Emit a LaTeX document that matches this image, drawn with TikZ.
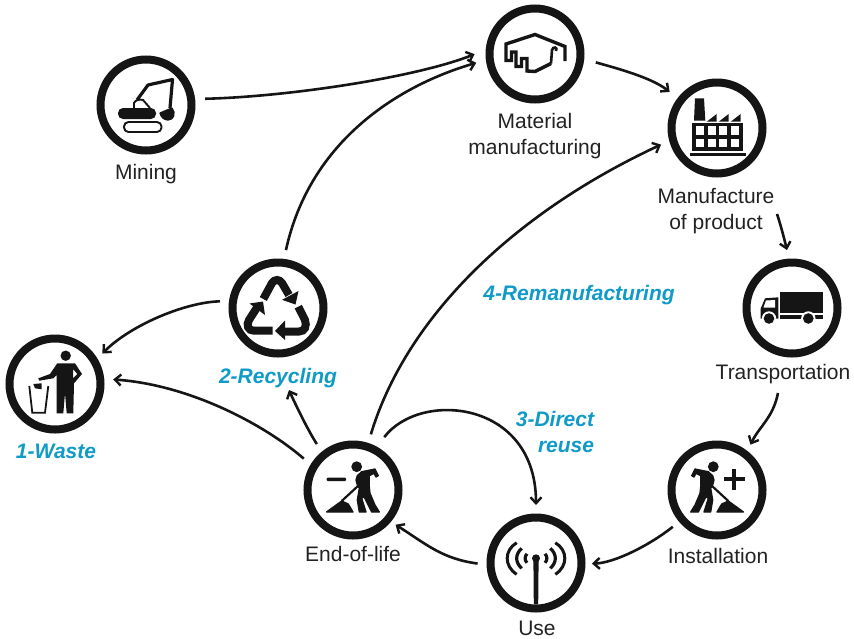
\documentclass[tikz,border=0pt]{standalone}
\usepackage{fontspec}
\setmainfont{Liberation Sans}
\usetikzlibrary{arrows.meta}
\definecolor{ink}{HTML}{151515}
\definecolor{txt}{HTML}{222222}
\definecolor{teal}{HTML}{0F9AC8}
\tikzset{
  ring/.style={circle,draw=ink,line width=8pt,minimum size=91pt,inner sep=0pt,fill=none},
  lab/.style={font=\fontsize{21}{26}\selectfont,text=txt,inner sep=0pt,align=center},
  tag/.style={font=\fontsize{21}{26}\selectfont\bfseries\itshape,text=teal,inner sep=0pt,align=center},
  conn/.style={draw=ink,line width=2.6pt,-{Straight Barb[length=6pt,width=11pt,line width=2.4pt]}},
  ic/.style={fill=ink,draw=ink,line width=1.3pt,line join=round},
  icl/.style={draw=ink,fill=none}
}
\newcommand{\workericon}{%
  \fill[ink] (3.7,-23.3) circle (5.4);
  \filldraw[ic] (4.3,-14.3)--(8.7,-18.3)--(22,-21)--(25.3,-14.3)--(23,-13)--(21,-16.7)--(16.3,-14.3)--(16.3,-3.3)--(17,3.3)--(22,15)--(26.3,22)--(18.7,22)--(11,6.7)--(8.7,8.3)--(13,22)--(6.3,22)--(4.3,10)--(6.3,-1.7)--(4.3,-5)--(3,-10)--cycle;
  \draw[icl,line width=2.2pt] (-11.3,11)--(5.3,-4.3);
  \filldraw[ic] (-26.5,22)--(-19.7,17)--(-11.3,11)--(-4.7,14)--(0,22)--cycle;
}
\begin{document}
\begin{tikzpicture}[x=1pt,y=-1pt]
\useasboundingbox (0,0) rectangle (854,638);
% rings
\node[ring] (mining) at (146,105) {};
\node[ring] (material) at (535,54) {};
\node[ring] (manuf) at (717,128) {};
\node[ring] (transport) at (792,308) {};
\node[ring] (install) at (717,490) {};
\node[ring] (use) at (536,563) {};
\node[ring] (eol) at (353,490) {};
\node[ring] (recycle) at (278,308) {};
\node[ring] (waste) at (55,384) {};
% labels
\node[lab] (Lmining) at (146,174) {Mining};
\node[lab] (Lmaterial) at (535,136) {Material\\manufacturing};
\node[lab] (Lmanuf) at (716,211) {Manufacture\\of product};
\node[lab] (Ltransport) at (783,374) {Transportation};
\node[lab] (Linstall) at (718,556) {Installation};
\node[lab] (Luse) at (537,628) {Use};
\node[lab] (Leol) at (353,554) {End-of-life};
\node[tag] (Lrecycle) at (278,378) {2-Recycling};
\node[tag] (Lwaste) at (56,451) {1-Waste};
\node[tag,align=right] (Lreuse) at (555,431.5) {3-Direct\\reuse};
\node[tag] (Lreman) at (579,295) {4-Remanufacturing};
% connectors
\draw[conn,shorten <=10pt,shorten >=12pt] (mining.7) .. controls +(90,-2) and +(-70,28) .. (material.175);
\draw[conn,shorten <=9pt,shorten >=10pt] (recycle.83) .. controls +(26,-119) and +(-86,25) .. (material.187);
\draw[conn,shorten <=12pt,shorten >=10pt] (material.-6) .. controls +(36,10) and +(-25,-20) .. (manuf.143);
\draw[conn,shorten <=9pt,shorten >=9pt] (eol.72) .. controls +(37,-123) and +(-159,74) .. (manuf.195);
\draw[conn] ([xshift=61pt,yshift=20pt]Lmanuf.south) .. controls +(4,12) and +(-3,-12) .. ([xshift=-5pt,yshift=8.5pt]transport.north);
\draw[conn,shorten >=7pt] ([xshift=-5pt,yshift=-9pt]Ltransport.south) .. controls +(-5,25) and +(12,-25) .. (install.52);
\draw[conn,shorten <=8pt,shorten >=6.5pt] (install.220) .. controls +(-29,23) and +(29.5,-1) .. (use.-1);
\draw[conn,shorten <=9pt,shorten >=5.5pt] (use.182) .. controls +(-45,-6) and +(35,22) .. (eol.-40.6);
\draw[conn,shorten <=12pt,shorten >=8.5pt] (eol.61) .. controls +(43,-56.7) and +(0,-113.5) .. (use.90);
\draw[conn,shorten <=9pt] (eol.129) .. controls +(-12,-18) and +(8,18) .. ([xshift=11pt,yshift=-2pt]Lrecycle.south);
\draw[conn,shorten <=9pt,shorten >=9pt] (eol.149) .. controls +(-45.6,-39.5) and +(86,6) .. (waste.6);
\draw[conn,shorten <=9pt,shorten >=7pt] (recycle.172) .. controls +(-44,1) and +(32.6,-33) .. (waste.31);
% mining icon
\fill[ink,rounded corners=5pt] (118,108) rectangle (156,119);
\draw[icl,line width=1.9pt,rounded corners=4.5pt] (124,122) rectangle (161.5,132);
\draw[icl,line width=1.9pt] (134,108)--(134,103)..controls (135,100) and (140,99)..(143,100)--(150,108);
\draw[icl,line width=3.2pt,line join=round] (137,100)--(148,85)--(172.5,79.5)--(170,108);
\filldraw[ic] (160,113)--(172,108)..controls (176,113) and (174,120)..(168,120)..controls (164,120) and (161,117)..(160,113)--cycle;
% material icon
\draw[icl,line width=3.4pt,line join=miter] (565,61)--(565,46.5)--(535,34.5)--(506,44)--(506,60.5)--(511.5,60.5)--(511.5,52)--(516,52)--(516,66.5)--(521.5,66.5)--(521.5,58.5)--(527,58.5)--(527,71)--(535,71.5)--(551,63.5);
\draw[icl,line width=2.6pt] (551,63.5)--(552,50)..controls (553,46) and (558,47)..(556,51);
% factory icon
\fill[ink] (695,98.3)--(704,98.3)--(705.3,120.7)--(694,120.7)--cycle;
\foreach \dx in {0,12,24}{\fill[ink] (706.7+\dx,121.7)--(716.7+\dx,114)--(716.7+\dx,121.7)--cycle;}
\fill[ink] (692.3,122.7) rectangle (743.3,151);
\foreach \wx in {695.6,707.6,719.3,731.3}{
  \foreach \wy in {126.3,138.6}{\fill[white] (\wx,\wy) rectangle (\wx+8,\wy+8.4);}
}
\fill[ink] (690,152.7) rectangle (745.7,156);
% recycling icon
\begin{scope}[line width=8pt,draw=ink]
\draw (263.3,299)--(272,283)..controls (275,279) and (279,279)..(282,283)--(289,295);
\fill[ink] (282,299.8)--(298.5,291)--(295.5,304.5)--cycle;
\draw (298.3,306.7)--(305,320)..controls (307,326) and (305,331.5)..(299,331.5)--(283.3,331.5);
\fill[ink] (285,320.5)--(285,340)--(275,331)--cycle;
\draw (272.7,330.7)--(254,330.7)..controls (248,330.7) and (246,325)..(249,320)--(256.7,308);
\fill[ink] (249.5,303.5)--(263,301.5)--(265,315)--cycle;
\end{scope}
% waste icon
\fill[ink] (65.7,355.7) circle (5.2);
\fill[ink,even odd rule] (57.3,363.3)--(75,363.3)--(82,374)--(74,383.3)--(73.3,413.3)--(66.7,413.3)--(65,393.3)--(63.3,413.3)--(56.7,413.3)--(56.7,375)--(53.3,378.3)--(39.3,380.7)--(38.3,378.3)--(50,374)--cycle
  (73,369)--(77.3,374)--(73,378.5)--cycle;
\draw[icl,line width=1.8pt] (29.3,386)--(32.3,412.7)--(45,412.7)--(48.3,386);
\fill[ink] (33.3,384)--(41.7,383.3)--(41.7,389.3)--(35,388.3)--cycle;
% truck icon
\fill[ink] (780,291.7) rectangle (823.3,313.3);
\fill[ink] (780,315) rectangle (823.3,318.5);
\fill[ink] (760.7,318.5)--(760.7,308.5)--(765,298.3)--(778.3,297.3)--(778.3,318.5)--cycle;
\fill[white] (766,300.5)--(775,300)--(775,307.5)--(763.5,307.5)--cycle;
\foreach \wx in {769,808.3}{\fill[white] (\wx,318.5) circle (7.2); \fill[ink] (\wx,318.5) circle (5.3);}
% workers
\begin{scope}[shift={(353,490)}]\workericon\end{scope}
\fill[ink,rounded corners=1pt] (326.7,477.7) rectangle (346,481);
\begin{scope}[shift={(717,490)},xscale=-1]\workericon\end{scope}
\fill[ink] (724,477.4) rectangle (744.6,481.2);
\fill[ink] (732.4,469) rectangle (736.2,489.6);
% antenna icon
\fill[ink] (536,558.3) circle (4);
\fill[ink] (533.4,560)--(538.6,560)--(538.2,604)--(533.8,604)--cycle;
\foreach \s in {-1,1}{
\begin{scope}[shift={(536,558.3)},xscale=\s,line cap=butt]
\draw[icl,line width=3pt] (-19.3,-15.6) .. controls (-32,-8) and (-32,8) .. (-19.3,16);
\draw[icl,line width=3.2pt] (-14.3,-10) .. controls (-21,-4) and (-21,4) .. (-14.3,10);
\draw[icl,line width=3.2pt] (-9,-4.5) .. controls (-11.5,-2) and (-11.5,2) .. (-9,4.5);
\end{scope}}
\end{tikzpicture}
\end{document}
